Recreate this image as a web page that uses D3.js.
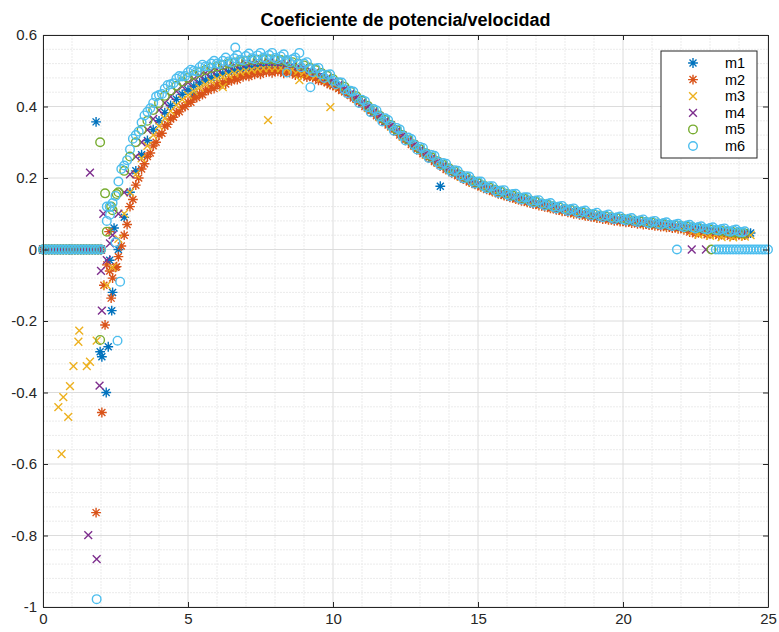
<!DOCTYPE html>
<html>
<head>
<meta charset="utf-8">
<script src="https://cdn.jsdelivr.net/npm/d3@7"></script>
<style>
body { margin: 0; background: #fff; }
svg text { font-family: "Liberation Sans", Arial, sans-serif; }
</style>
</head>
<body>
<svg id="chart" width="779" height="632"></svg>
<script>
// wind speeds of the main band (m/s)
var speeds = [2.2,2.4,2.6,2.8,3.0,3.2,3.4,3.6,3.8,4.0,
	4.2,4.4,4.6,4.8,5.0,5.2,5.4,5.6,5.8,6.0,
	6.2,6.4,6.6,6.8,7.0,7.2,7.4,7.6,7.8,8.0,
	8.2,8.4,8.6,8.8,9.0,9.2,9.4,9.6,9.8,10.0,
	10.2,10.4,10.6,10.8,11.0,11.2,11.4,11.6,11.8,12.0,
	12.2,12.4,12.6,12.8,13.0,13.2,13.4,13.6,13.8,14.0,
	14.2,14.4,14.6,14.8,15.0,15.2,15.4,15.6,15.8,16.0,
	16.2,16.4,16.6,16.8,17.0,17.2,17.4,17.6,17.8,18.0,
	18.2,18.4,18.6,18.8,19.0,19.2,19.4,19.6,19.8,20.0,
	20.2,20.4,20.6,20.8,21.0,21.2,21.4,21.6,21.8,22.0,
	22.2,22.4,22.6,22.8,23.0,23.2,23.4,23.6,23.8,24.0,
	24.2,24.4];

// extra samples half-way between the above (only m2 and m6 have them)
var speedsMid = [2.3,2.5,2.7,2.9,3.1,3.3,3.5,3.7,3.9,4.1,
	4.3,4.5,4.7,4.9,5.1,5.3,5.5,5.7,5.9,6.1,
	6.3,6.5,6.7,6.9,7.1,7.3,7.5,7.7,7.9,8.1,
	8.3,8.5,8.7,8.9,9.1,9.3,9.5,9.7,9.9,10.1,
	10.3,10.5,10.7,10.9,11.1,11.3,11.5,11.7,11.9,12.1,
	12.3,12.5,12.7,12.9,13.1,13.3,13.5,13.7,13.9,14.1,
	14.3,14.5,14.7,14.9,15.1,15.3,15.5,15.7,15.9,16.1,
	16.3,16.5,16.7,16.9,17.1,17.3,17.5,17.7,17.9,18.1,
	18.3,18.5,18.7,18.9,19.1,19.3,19.5,19.7,19.9,20.1,
	20.3,20.5,20.7,20.9,21.1,21.3,21.5,21.7,21.9,22.1,
	22.3,22.5,22.7,22.9,23.1,23.3,23.5,23.7,23.9,24.1,
	24.3];

// below cut-in, every machine gives Cp = 0
var lowSpeeds = [0,0.1,0.2,0.3,0.4,0.5,0.6,0.7,0.8,0.9,1.0,
	1.1,1.2,1.3,1.4,1.5,1.6,1.7,1.8,1.9,2.0];

var m1 = [null,-0.12,0.0,0.09,0.16,0.22,0.265,0.305,0.335,0.36,
	0.383,0.403,0.42,0.434,0.446,0.457,0.466,0.474,0.481,0.487,
	0.492,0.497,0.501,0.504,0.507,0.509,0.511,0.512,0.512,0.512,
	0.511,0.509,0.506,0.502,0.498,0.493,0.487,0.48,0.473,0.465,
	0.456,0.446,0.436,0.422,0.412,0.397,0.386,0.371,0.36,0.345,
	0.333,0.317,0.306,0.291,0.28,0.266,0.257,0.244,0.235,0.223,
	0.216,0.205,0.199,0.189,0.184,0.175,0.171,0.163,0.159,0.152,
	0.149,0.142,0.14,0.133,0.131,0.125,0.123,0.117,0.115,0.11,
	0.108,0.103,0.102,0.096,0.095,0.091,0.09,0.086,0.085,0.081,
	0.081,0.077,0.077,0.073,0.073,0.069,0.069,0.065,0.065,0.062,
	0.062,0.058,0.058,0.055,0.055,0.051,0.052,0.048,0.049,0.045,
	0.046,0.046];

var m2 = [null,-0.08,-0.02,0.04,0.12,0.18,0.225,0.26,0.29,0.32,
	0.345,0.365,0.383,0.398,0.412,0.424,0.435,0.445,0.453,0.461,
	0.468,0.474,0.48,0.485,0.489,0.493,0.496,0.498,0.5,0.5,
	0.5,0.498,0.496,0.493,0.489,0.485,0.48,0.474,0.467,0.459,
	0.45,0.441,0.431,0.42,0.408,0.395,0.382,0.369,0.356,0.343,
	0.329,0.315,0.302,0.289,0.276,0.264,0.253,0.242,0.231,0.221,
	0.212,0.203,0.195,0.187,0.18,0.173,0.167,0.161,0.155,0.15,
	0.145,0.14,0.136,0.131,0.127,0.123,0.119,0.115,0.111,0.108,
	0.104,0.101,0.098,0.094,0.091,0.089,0.086,0.084,0.081,0.079,
	0.077,0.075,0.073,0.071,0.069,0.067,0.065,0.063,0.061,0.06,
	0.058,0.052,0.047,0.05,0.044,0.047,0.042,0.045,0.04,0.043,
	0.04,null];

var m2Mid = [-0.06,-0.05,0.01,0.07,0.14,0.2,0.24,0.27,0.3,0.325,
	0.35,0.37,0.385,0.4,0.412,0.425,0.433,0.445,0.45,0.46,
	0.463,0.472,0.475,0.483,0.484,0.49,0.49,0.496,0.494,0.498,
	0.493,0.495,0.488,0.489,0.482,0.481,0.473,0.47,0.461,0.455,
	0.445,0.436,0.424,0.413,0.4,0.388,0.374,0.362,0.348,0.336,
	0.32,0.307,0.294,0.281,0.268,0.257,0.246,0.235,0.224,0.215,
	0.206,0.197,0.189,0.182,0.175,0.168,0.162,0.156,0.151,0.146,
	0.141,0.136,0.132,0.127,0.123,0.119,0.115,0.111,0.107,0.104,
	0.1,0.097,0.094,0.091,0.088,0.085,0.083,0.08,0.078,0.076,
	0.074,0.072,0.07,0.068,0.066,0.064,0.062,0.06,0.058,0.055,
	0.049,0.044,0.047,0.041,0.044,0.039,0.042,0.037,0.04,0.038,
	null];

var m3 = [null,-0.05,0.03,0.1,0.16,0.21,0.255,0.29,0.32,0.345,
	0.367,0.387,0.404,0.419,0.432,0.443,0.453,0.462,0.47,0.477,
	0.483,0.488,0.493,0.497,0.5,0.503,0.505,0.507,0.508,0.508,
	0.507,0.505,0.503,0.5,0.496,0.491,0.486,0.48,0.473,0.465,
	0.456,0.446,0.434,0.422,0.41,0.396,0.384,0.37,0.358,0.344,
	0.331,0.316,0.304,0.29,0.278,0.265,0.255,0.243,0.233,0.222,
	0.214,0.204,0.197,0.188,0.182,0.174,0.169,0.162,0.157,0.151,
	0.147,0.141,0.138,0.132,0.129,0.124,0.121,0.116,0.113,0.109,
	0.106,0.102,0.1,0.095,0.093,0.09,0.088,0.085,0.083,0.08,
	0.079,0.076,0.075,0.072,0.071,0.068,0.067,0.064,0.063,0.06,
	0.056,0.05,0.042,0.045,0.038,0.042,0.035,0.04,0.034,0.038,
	0.036,0.04];

var m4 = [-0.03,0.04,0.1,0.16,0.21,0.26,0.3,0.335,0.365,0.39,
	0.41,0.428,0.443,0.456,0.467,0.477,0.486,0.493,0.499,0.504,
	0.509,0.513,0.516,0.519,0.521,0.523,0.524,0.525,0.525,0.524,
	0.523,0.52,0.517,0.513,0.508,0.502,0.496,0.488,0.48,0.471,
	0.461,0.449,0.435,0.425,0.41,0.399,0.384,0.373,0.358,0.347,
	0.331,0.319,0.304,0.293,0.278,0.268,0.255,0.246,0.233,0.225,
	0.214,0.207,0.197,0.191,0.182,0.177,0.169,0.165,0.157,0.154,
	0.147,0.144,0.138,0.135,0.129,0.127,0.121,0.119,0.113,0.112,
	0.106,0.105,0.1,0.098,0.093,0.093,0.088,0.088,0.083,0.083,
	0.079,0.079,0.075,0.075,0.071,0.071,0.067,0.067,0.063,0.064,
	0.06,0.06,0.056,0.057,0.053,0.053,0.05,0.05,0.047,0.047,
	0.044,null];

var m5 = [0.05,0.11,0.16,0.22,0.26,0.3,0.335,0.36,0.39,0.41,
	0.43,0.445,0.458,0.47,0.48,0.488,0.496,0.502,0.508,0.512,
	0.516,0.52,0.523,0.526,0.528,0.53,0.531,0.532,0.532,0.531,
	0.53,0.527,0.524,0.52,0.515,0.509,0.502,0.494,0.486,0.477,
	0.466,0.455,0.442,0.429,0.416,0.402,0.389,0.375,0.362,0.348,
	0.334,0.32,0.307,0.294,0.281,0.269,0.258,0.247,0.237,0.227,
	0.218,0.209,0.201,0.193,0.186,0.179,0.173,0.167,0.161,0.156,
	0.151,0.146,0.142,0.137,0.133,0.129,0.125,0.121,0.118,0.114,
	0.111,0.107,0.104,0.101,0.098,0.095,0.093,0.09,0.088,0.086,
	0.083,0.081,0.079,0.077,0.075,0.073,0.071,0.069,0.068,0.066,
	0.064,0.062,0.06,0.058,0.056,0.054,0.052,0.05,0.048,0.046,
	0.045,null];

var m6 = [0.08,0.13,0.19,0.235,0.28,0.32,0.355,0.385,0.41,0.432,
	0.45,0.462,0.478,0.484,0.496,0.5,0.51,0.512,0.52,0.52,
	0.528,0.526,0.535,0.531,0.541,0.535,0.543,0.537,0.544,0.536,
	0.54,0.53,0.532,0.519,0.52,0.505,0.506,0.49,0.489,0.472,
	0.468,0.448,0.444,0.424,0.419,0.398,0.393,0.372,0.367,0.346,
	0.34,0.318,0.313,0.292,0.287,0.267,0.264,0.245,0.242,0.224,
	0.222,0.207,0.205,0.191,0.19,0.177,0.177,0.165,0.165,0.154,
	0.155,0.145,0.146,0.136,0.137,0.128,0.128,0.12,0.12,0.113,
	0.113,0.106,0.107,0.1,0.1,0.094,0.095,0.089,0.09,0.084,
	0.086,0.08,0.082,0.076,0.078,0.072,0.074,0.069,0.07,0.065,
	0.067,0.062,0.063,0.058,0.06,0.055,0.057,0.052,0.054,0.05,
	0.051,null];

var m6Mid = [0.12,0.15,0.225,0.25,0.31,0.33,0.375,0.395,0.428,0.435,
	0.46,0.465,0.485,0.485,0.503,0.498,0.517,0.512,0.528,0.518,
	0.537,0.523,0.544,0.529,0.548,0.532,0.55,0.534,0.55,0.532,
	0.546,0.524,0.537,0.51,0.524,0.496,0.508,0.48,0.49,0.462,
	0.467,0.437,0.442,0.41,0.415,0.384,0.389,0.358,0.362,0.332,
	0.336,0.305,0.309,0.28,0.284,0.256,0.262,0.236,0.24,0.216,
	0.22,0.199,0.204,0.184,0.19,0.171,0.177,0.159,0.166,0.149,
	0.156,0.14,0.146,0.131,0.138,0.123,0.13,0.115,0.122,0.108,
	0.115,0.101,0.109,0.095,0.103,0.09,0.098,0.085,0.092,0.081,
	0.088,0.077,0.084,0.073,0.08,0.069,0.076,0.066,0.072,0.062,
	0.069,0.059,0.065,0.056,0.062,0.053,0.059,0.05,0.056,0.048,
	null];

// stray samples: start-up transients, dips and cut-out zeros
var m1Extra = [[1.83,0.357],[5.19,0.434],[13.7,0.177],[2.37,-0.171],[1.97,-0.286],[2.03,-0.30],
	[2.25,-0.272],[2.18,-0.40],[2.3,-0.03],[2.45,0.06],[0.93,0]];
var m2Extra = [[2.03,-0.456],[1.83,-0.736],[2.14,-0.211],[2.35,-0.136],[2.2,-0.043],[2.54,-0.048],
	[2.1,-0.1],[2.28,0.05]];
var m3Extra = [[1.25,-0.227],[1.22,-0.258],[1.85,-0.255],[1.05,-0.326],[1.51,-0.326],[1.62,-0.314],
	[0.93,-0.382],[0.70,-0.413],[0.53,-0.441],[0.87,-0.468],[0.64,-0.572],[6.2,0.454],
	[7.76,0.362],[8.84,0.474],[9.91,0.398],[2.2,-0.1]];
var m4Extra = [[1.62,0.215],[1.95,-0.381],[2.03,-0.171],[1.56,-0.799],[1.85,-0.866],[2.08,0.10],
	[2.31,0.017],[2.0,-0.06],[22.37,0],[22.86,0]];
var m5Extra = [[1.97,0.30],[2.14,0.157],[2.54,0.155],[1.97,-0.253],[2.35,0.12],[23.05,0]];
var m6Extra = [[1.85,-0.978],[6.63,0.565],[8.84,0.55],[9.22,0.454],[8.41,0.495],[2.57,-0.255],
	[2.66,-0.09],[2.2,0.12],[2.31,0.097],[2.5,0.02],[21.86,0],
	[23.2,0],[23.3,0],[23.4,0],[23.5,0],[23.6,0],[23.7,0],[23.8,0],[23.9,0],[24.0,0],[24.1,0],
	[24.2,0],[24.3,0],[24.4,0],[24.5,0],[24.6,0],[24.7,0],[24.8,0],[24.9,0],[25.0,0]];

var seriesNames = ["m1", "m2", "m3", "m4", "m5", "m6"];
var xTicks = [0, 5, 10, 15, 20, 25];
var xTickLabels = ["0", "5", "10", "15", "20", "25"];
var yTicks = [-1, -0.8, -0.6, -0.4, -0.2, 0, 0.2, 0.4, 0.6];
var yTickLabels = ["-1", "-0.8", "-0.6", "-0.4", "-0.2", "0", "0.2", "0.4", "0.6"];
var titleText = "Coeficiente de potencia/velocidad";

var colors = ["#0072bd", "#d95319", "#edb120", "#7e2f8e", "#77ac30", "#4dbeee"];
var shapes = ["star", "star", "cross", "cross", "circle", "circle"];

var svg = d3.select("#chart"),
	WIDTH = 779,
	HEIGHT = 632,
	MARGINS = {top: 35, right: 11, bottom: 25, left: 43},
	xScale = d3.scaleLinear()
		.range([MARGINS.left, WIDTH - MARGINS.right])
		.domain([0, 25]),
	yScale = d3.scaleLinear()
		.range([HEIGHT - MARGINS.bottom, MARGINS.top])
		.domain([-1, 0.6]);

function markerPath(shape) {
	var r = 4.9, a = 3.5, c = 3.9;
	if (shape == "star")
		return "M" + (-r) + ",0L" + r + ",0M0," + (-r) + "L0," + r +
			"M" + (-a) + "," + (-a) + "L" + a + "," + a + "M" + (-a) + "," + a + "L" + a + "," + (-a);
	if (shape == "cross")
		return "M" + (-c) + "," + (-c) + "L" + c + "," + c + "M" + (-c) + "," + c + "L" + c + "," + (-c);
	return null;
}

// grid (minor first, then major)
var minorX = [1,2,3,4,6,7,8,9,11,12,13,14,16,17,18,19,21,22,23,24];
var minorY = [];
for (var i = 0; i < yTicks.length - 1; i++) {
	for (var k = 1; k < 5; k++)
		minorY.push(yTicks[i] + k * 0.04);
}
var grid = svg.append("g");
grid.selectAll(".mx").data(minorX).enter().append("line")
	.attr("x1", function(d) { return xScale(d); }).attr("x2", function(d) { return xScale(d); })
	.attr("y1", yScale(-1)).attr("y2", yScale(0.6))
	.attr("stroke", "#ebebeb").attr("stroke-width", 1).attr("stroke-dasharray", "2,1");
grid.selectAll(".my").data(minorY).enter().append("line")
	.attr("y1", function(d) { return yScale(d); }).attr("y2", function(d) { return yScale(d); })
	.attr("x1", xScale(0)).attr("x2", xScale(25))
	.attr("stroke", "#ebebeb").attr("stroke-width", 1).attr("stroke-dasharray", "2,1");
grid.selectAll(".gx").data(xTicks).enter().append("line")
	.attr("x1", function(d) { return xScale(d); }).attr("x2", function(d) { return xScale(d); })
	.attr("y1", yScale(-1)).attr("y2", yScale(0.6))
	.attr("stroke", "#dcdcdc").attr("stroke-width", 1);
grid.selectAll(".gy").data(yTicks).enter().append("line")
	.attr("y1", function(d) { return yScale(d); }).attr("y2", function(d) { return yScale(d); })
	.attr("x1", xScale(0)).attr("x2", xScale(25))
	.attr("stroke", "#dcdcdc").attr("stroke-width", 1);

// points
var allSeries = [m1, m2, m3, m4, m5, m6];
var allMid = [null, m2Mid, null, null, null, m6Mid];
var allExtra = [m1Extra, m2Extra, m3Extra, m4Extra, m5Extra, m6Extra];

for (var s = 0; s < allSeries.length; s++) {
	var pts = [];
	lowSpeeds.forEach(function(v) { pts.push([v, 0]); });
	allSeries[s].forEach(function(v, k) {
		if (v !== null) pts.push([speeds[k], v]);
	});
	if (allMid[s]) {
		allMid[s].forEach(function(v, k) {
			if (v !== null) pts.push([speedsMid[k], v]);
		});
	}
	allExtra[s].forEach(function(p) { pts.push(p); });

	var g = svg.append("g")
		.attr("fill", "none")
		.attr("stroke", colors[s])
		.attr("stroke-width", 1.4);

	if (shapes[s] == "circle") {
		g.selectAll("circle").data(pts).enter().append("circle")
			.attr("cx", function(d) { return xScale(d[0]); })
			.attr("cy", function(d) { return yScale(d[1]); })
			.attr("r", 4.3);
	} else {
		var p = markerPath(shapes[s]);
		g.selectAll("path").data(pts).enter().append("path")
			.attr("d", p)
			.attr("transform", function(d) { return "translate(" + xScale(d[0]) + "," + yScale(d[1]) + ")"; });
	}
}

// axes: inward ticks on all four sides
var xAxis = d3.axisBottom(xScale).tickValues(xTicks)
	.tickFormat(function(d, i) { return xTickLabels[i]; })
	.tickSizeInner(-5).tickSizeOuter(0).tickPadding(6);
var yAxis = d3.axisLeft(yScale).tickValues(yTicks)
	.tickFormat(function(d, i) { return yTickLabels[i]; })
	.tickSizeInner(-5).tickSizeOuter(0).tickPadding(6);
var xTop = d3.axisTop(xScale).tickValues(xTicks).tickFormat("").tickSizeInner(-5).tickSizeOuter(0);
var yRight = d3.axisRight(yScale).tickValues(yTicks).tickFormat("").tickSizeInner(-5).tickSizeOuter(0);

svg.append("g").attr("transform", "translate(0," + (HEIGHT - MARGINS.bottom) + ")").call(xAxis);
svg.append("g").attr("transform", "translate(" + MARGINS.left + ",0)").call(yAxis);
svg.append("g").attr("transform", "translate(0," + MARGINS.top + ")").call(xTop);
svg.append("g").attr("transform", "translate(" + (WIDTH - MARGINS.right) + ",0)").call(yRight);

svg.selectAll(".domain, .tick line").attr("stroke", "#262626");
svg.selectAll(".tick text").attr("fill", "#262626").style("font-size", "15px");

// title
svg.append("text")
	.attr("x", (xScale(0) + xScale(25)) / 2)
	.attr("y", 26)
	.attr("text-anchor", "middle")
	.style("font-size", "18px")
	.style("font-weight", "bold")
	.attr("fill", "#000")
	.text(titleText);

// legend: marker centred in a sample slot, label to its right
var legend = svg.append("g").attr("transform", "translate(661,51)");
legend.append("rect")
	.attr("width", 96).attr("height", 107)
	.attr("fill", "#fff").attr("stroke", "#262626").attr("stroke-width", 1);

seriesNames.forEach(function(name, i) {
	var row = legend.append("g").attr("transform", "translate(0," + (12 + i * 16.6) + ")");
	if (shapes[i] == "circle") {
		row.append("circle").attr("cx", 32).attr("cy", 0).attr("r", 4.3)
			.attr("fill", "none").attr("stroke", colors[i]).attr("stroke-width", 1.4);
	} else {
		row.append("path").attr("d", markerPath(shapes[i]))
			.attr("transform", "translate(32,0)")
			.attr("fill", "none").attr("stroke", colors[i]).attr("stroke-width", 1.4);
	}
	row.append("text").attr("x", 64).attr("y", 5)
		.style("font-size", "14.5px").attr("fill", "#000")
		.text(name);
});
</script>
</body>
</html>
